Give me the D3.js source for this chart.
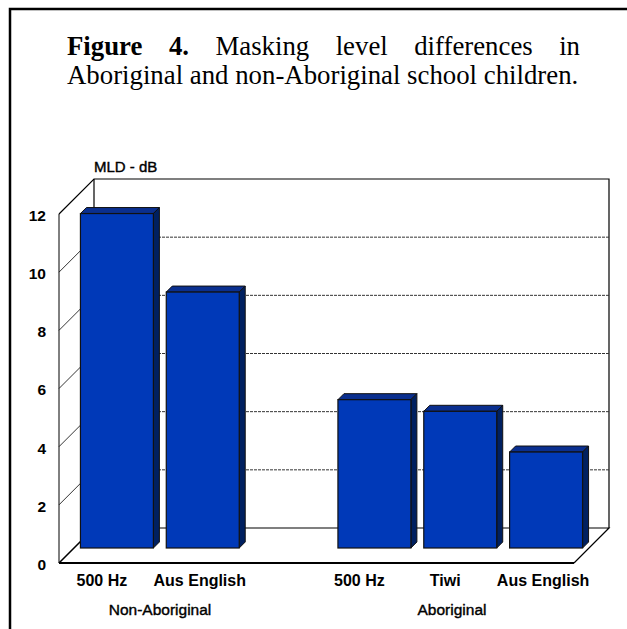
<!DOCTYPE html>
<html lang="en">
<head>
  <meta charset="UTF-8">
  <title>Figure 4</title>
  <script src="https://d3js.org/d3.v7.min.js"></script>
  <style>
    html, body { margin: 0; padding: 0; background: #fff; }
    svg { display: block; }
    .tick line, .domain { display: none; }
    .caption { font-family: "Liberation Serif", serif; font-size: 26.8px; fill: #000; }
    .value-tick text { font: bold 15.5px "Liberation Sans", Arial, sans-serif; fill: #000; }
    .cat-tick text { font: bold 16px "Liberation Sans", Arial, sans-serif; fill: #000; }
    .group { font: 15.5px "Liberation Sans", Arial, sans-serif; fill: #000; stroke: #000; stroke-width: 0.4px; }
    .unit { font: 15px "Liberation Sans", Arial, sans-serif; fill: #000; stroke: #000; stroke-width: 0.4px; }
  </style>
</head>
<body>
  <svg id="chart" width="627" height="629"></svg>
  <script>
    // data
    const slots = ['a', 'b', 'gap', 'c', 'd', 'e'];
    const slotsUsed = ['a', 'b', 'c', 'd', 'e'];
    const barLabels = ['500 Hz', 'Aus English', '500 Hz', 'Tiwi', 'Aus English'];
    const barValues = [11.5, 8.8, 5.1, 4.7, 3.3];
    const valueTicks = [0, 2, 4, 6, 8, 10, 12];
    const gridTicks = [2, 4, 6, 8, 10];
    const groupLabels = ['Non-Aboriginal', 'Aboriginal'];
    const caption1 = ['Figure', '4.', 'Masking', 'level', 'differences', 'in'];
    const caption2 = 'Aboriginal and non-Aboriginal school children.';

    const svg = d3.select('#chart');

    // outer frame
    svg.append('path')
      .attr('d', 'M10,629V9H627')
      .attr('fill', 'none').attr('stroke', '#000').attr('stroke-width', 2.5);

    // caption, first line is justified
    const c1 = svg.append('text').attr('class', 'caption').attr('x', 67).attr('y', 55);
    caption1.forEach((w, i) => {
      c1.append('tspan')
        .attr('font-weight', i < 2 ? 'bold' : null)
        .text(w + (i < caption1.length - 1 ? ' ' : ''));
    });
    const natural = c1.node().getComputedTextLength();
    c1.style('word-spacing', (513 - natural) / (caption1.length - 1) + 'px');
    svg.append('text').attr('class', 'caption').attr('x', 67).attr('y', 84).text(caption2);

    // scales
    const y = d3.scaleLinear().domain([0, 12]).range([563, 214]);
    const x = d3.scaleBand().domain(slots).range([59, 574]).paddingInner(0.15).paddingOuter(0.075);
    const wallDepth = 35;
    const barShift = 15;
    const barDepth = 6;

    // back wall and floor
    const wall = svg.append('g').attr('fill', 'none').attr('stroke', '#000');
    wall.append('path')
      .attr('stroke-width', 1.2)
      .attr('d', `M${59},${y(12)}L${59 + wallDepth},${y(12) - wallDepth}H${574 + wallDepth}V${y(0) - wallDepth}`);
    wall.append('path')
      .attr('stroke-width', 1.2)
      .attr('d', `M${59 + wallDepth},${y(12) - wallDepth}V${y(0) - wallDepth}H${574 + wallDepth}L${574},${y(0)}`);
    wall.append('path').attr('stroke-width', 1).attr('d', `M59,${y(12)}V${y(0)}`);
    wall.append('path').attr('stroke-width', 2).attr('d', `M59,${y(0)}H574`);
    wall.append('path').attr('stroke-width', 1.6).attr('d', `M59,${y(0)}L${59 + wallDepth},${y(0) - wallDepth}`);

    // gridlines: side wall solid, back wall dashed
    gridTicks.forEach(v => {
      wall.append('line')
        .attr('x1', 59).attr('y1', y(v))
        .attr('x2', 59 + wallDepth).attr('y2', y(v) - wallDepth)
        .attr('stroke-width', 0.8);
      wall.append('line')
        .attr('x1', 59 + wallDepth).attr('y1', y(v) - wallDepth)
        .attr('x2', 574 + wallDepth).attr('y2', y(v) - wallDepth)
        .attr('stroke', '#333').attr('stroke-width', 1).attr('stroke-dasharray', '3,1');
    });

    // bars
    const bars = svg.append('g').selectAll('g').data(slotsUsed).join('g');
    bars.each(function (d, i) {
      const g = d3.select(this);
      const bx = x(d) + barShift;
      const bw = x.bandwidth();
      const top = y(barValues[i]) - barShift;
      const bot = y(0) - barShift;
      // top face
      g.append('path')
        .attr('d', `M${bx},${top}l${barDepth},${-barDepth}h${bw}l${-barDepth},${barDepth}z`)
        .attr('fill', '#0a2f8f').attr('stroke', '#111').attr('stroke-width', 1);
      // side face
      g.append('path')
        .attr('d', `M${bx + bw},${top}l${barDepth},${-barDepth}V${bot - barDepth}l${-barDepth},${barDepth}z`)
        .attr('fill', '#002060').attr('stroke', '#111').attr('stroke-width', 1);
      // front face
      g.append('rect')
        .attr('x', bx).attr('y', top).attr('width', bw).attr('height', bot - top)
        .attr('fill', '#0039b8').attr('stroke', '#111').attr('stroke-width', 1.2);
    });

    // axes
    svg.append('g').attr('class', 'value-tick')
      .attr('transform', 'translate(49,1.5)')
      .call(d3.axisLeft(y).tickValues(valueTicks).tickSize(0).tickPadding(3));

    const catAxis = d3.axisBottom(x).tickValues(slotsUsed).tickSize(0).tickPadding(0)
      .tickFormat((d, i) => barLabels[i]);
    const catG = svg.append('g').attr('class', 'cat-tick')
      .attr('transform', 'translate(0,575)')
      .call(catAxis);
    // the English labels sit right of their slots in the original
    catG.selectAll('text').attr('dx', (d, i) => barLabels[i] === 'Aus English' ? 12 : 0);

    // group labels
    svg.selectAll('.group').data(groupLabels).join('text')
      .attr('class', 'group')
      .attr('x', (d, i) => [160, 452][i])
      .attr('y', 615)
      .attr('text-anchor', 'middle')
      .text(d => d);

    svg.append('text').attr('class', 'unit').attr('x', 94).attr('y', 172).text('MLD - dB');
  </script>
</body>
</html>
